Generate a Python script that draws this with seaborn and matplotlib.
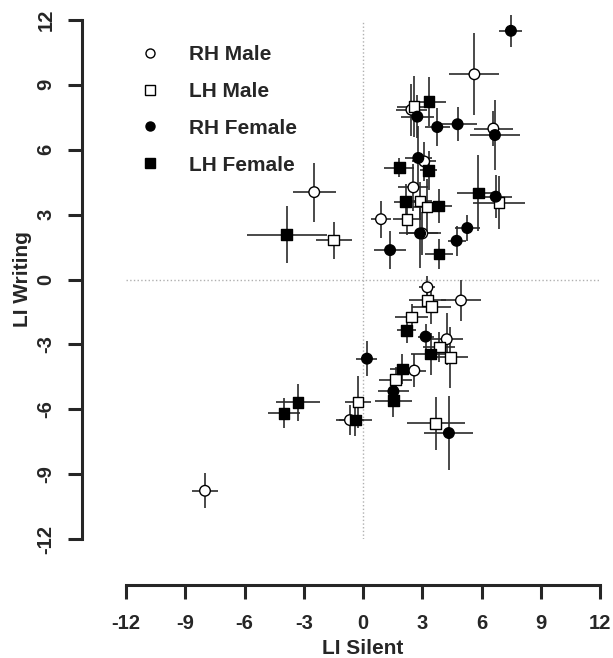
import seaborn as sns
import pandas as pd
import matplotlib.pyplot as plt
from matplotlib.lines import Line2D

# Laterality indices (silent vs writing) with error bars, per group
groups = ["RH Male", "LH Male", "RH Female", "LH Female"]

rh_male_x = [5.64, 2.45, 6.6, 3.1, 2.55, 0.91, 3.0, -2.47, 3.26, 4.96, 4.24, 2.6, -0.66, -8.0]
rh_male_y = [9.49, 7.85, 6.98, 5.46, 4.26, 2.79, 2.13, 4.04, -0.36, -0.97, -2.76, -4.21, -6.5, -9.77]
rh_male_xerr = [1.27, 0.8, 1.0, 0.6, 0.76, 0.5, 0.8, 1.08, 0.4, 1.0, 0.84, 0.6, 0.7, 0.68]
rh_male_yerr = [1.89, 1.2, 0.8, 0.9, 1.08, 0.85, 1.0, 1.37, 0.5, 0.93, 1.2, 0.75, 0.7, 0.8]

lh_male_x = [2.58, 6.89, 2.89, 3.24, 2.23, -1.49, 3.26, 3.46, 2.46, 3.86, 4.42, 1.65, -0.25, 3.68]
lh_male_y = [8.0, 3.55, 3.63, 3.35, 2.78, 1.82, -0.97, -1.25, -1.74, -3.13, -3.6, -4.63, -5.66, -6.65]
lh_male_xerr = [0.85, 1.3, 0.6, 0.7, 0.7, 0.91, 0.95, 1.0, 0.85, 0.8, 0.9, 0.85, 0.68, 1.46]
lh_male_yerr = [1.4, 1.23, 0.9, 1.3, 0.7, 0.85, 0.6, 0.8, 0.6, 0.7, 1.4, 0.6, 1.2, 1.23]

rh_female_x = [7.49, 2.75, 3.76, 4.79, 6.68, 2.8, 6.72, 2.89, 5.28, 4.74, 1.37, 3.17, 0.2, 1.54, 4.35]
rh_female_y = [11.5, 7.53, 7.05, 7.18, 6.68, 5.62, 3.83, 2.13, 2.38, 1.79, 1.36, -2.64, -3.66, -5.17, -7.1]
rh_female_xerr = [0.58, 0.82, 0.62, 1.0, 1.27, 0.68, 0.8, 1.05, 0.63, 0.46, 0.83, 0.4, 0.53, 0.8, 1.24]
rh_female_yerr = [0.75, 1.0, 0.89, 0.79, 1.6, 1.5, 1.0, 1.6, 0.6, 0.69, 0.86, 0.6, 0.81, 0.6, 1.7]

lh_female_x = [3.34, 1.84, 3.32, 5.84, 2.16, 3.83, 3.85, -3.86, 2.21, 3.43, 1.99, 1.54, -3.29, -4.0, -0.39]
lh_female_y = [8.22, 5.17, 5.05, 4.0, 3.6, 3.4, 1.17, 2.08, -2.35, -3.44, -4.14, -5.6, -5.68, -6.19, -6.5]
lh_female_xerr = [0.85, 0.76, 0.45, 1.1, 0.6, 0.68, 0.72, 2.03, 0.48, 1.0, 0.63, 0.95, 1.1, 0.82, 0.83]
lh_female_yerr = [1.13, 0.44, 0.9, 1.74, 0.8, 0.77, 0.69, 1.34, 0.58, 0.96, 0.69, 0.77, 0.85, 0.69, 0.73]

ticks = [-12, -9, -6, -3, 0, 3, 6, 9, 12]

frames = []
for name, xs, ys, xe, ye in [
    ("RH Male", rh_male_x, rh_male_y, rh_male_xerr, rh_male_yerr),
    ("LH Male", lh_male_x, lh_male_y, lh_male_xerr, lh_male_yerr),
    ("RH Female", rh_female_x, rh_female_y, rh_female_xerr, rh_female_yerr),
    ("LH Female", lh_female_x, lh_female_y, lh_female_xerr, lh_female_yerr),
]:
    frames.append(pd.DataFrame({"group": name, "silent": xs, "writing": ys,
                                "xerr": xe, "yerr": ye}))
df = pd.concat(frames, ignore_index=True)

sns.set_style("ticks")
plt.rcParams["font.family"] = ["Liberation Sans", "DejaVu Sans"]
plt.rcParams["font.weight"] = "bold"

fig = plt.figure(figsize=(6.13, 6.58), dpi=100)
ax = fig.add_axes([126 / 613, 119 / 658, 474 / 613, 519 / 658])
ax.set_xlim(-12, 12)
ax.set_ylim(-12, 12)

# dotted reference lines
ax.hlines(0, -12, 12, colors="#b0b0b0", linestyles=":", linewidth=1, zorder=0)
ax.vlines(0, -12, 12, colors="#b0b0b0", linestyles=":", linewidth=1, zorder=0)

# error bars
ax.errorbar(df["silent"], df["writing"], xerr=df["xerr"], yerr=df["yerr"],
            fmt="none", ecolor="#2a2a2a", elinewidth=1.2, capsize=0,
            zorder=1, clip_on=False)

palette = {"RH Male": "white", "LH Male": "white",
           "RH Female": "black", "LH Female": "black"}
markers = {"RH Male": "o", "LH Male": "s", "RH Female": "o", "LH Female": "s"}
sns.scatterplot(data=df, x="silent", y="writing", hue="group", style="group",
                hue_order=groups, style_order=groups, palette=palette,
                markers=markers, s=58, edgecolor="black", linewidth=1,
                legend=False, zorder=3, ax=ax, clip_on=False)

# R-style detached axes
for side in ["top", "right"]:
    ax.spines[side].set_visible(False)
ax.spines["left"].set_position(("outward", 31.7))
ax.spines["bottom"].set_position(("outward", 33.1))
for side in ["left", "bottom"]:
    ax.spines[side].set_linewidth(2.2)
    ax.spines[side].set_bounds(-12, 12)
ax.set_xticks(ticks)
ax.set_yticks(ticks)
ax.set_xticklabels([str(t) for t in ticks])
ax.set_yticklabels([str(t) for t in ticks], rotation=90, va="center")
ax.tick_params(axis="both", length=10, width=2.2, labelsize=14.5)
ax.tick_params(axis="x", pad=11)
ax.tick_params(axis="y", pad=9)
for lab in ax.get_xticklabels() + ax.get_yticklabels():
    lab.set_fontweight("bold")

ax.set_xlabel("LI Silent", fontsize=15, fontweight="bold")
ax.set_ylabel("LI Writing", fontsize=15, fontweight="bold")
ax.xaxis.set_label_coords(0.5, -0.193)
ax.yaxis.set_label_coords(-0.198, 0.5)

handles = [Line2D([], [], linestyle="none", marker=markers[g],
                  markerfacecolor=palette[g], markeredgecolor="black",
                  markeredgewidth=1, markersize=6.5) for g in groups]
leg = ax.legend(handles, groups, loc="upper left", bbox_to_anchor=(0.0287, 0.952),
                frameon=False, borderpad=0, borderaxespad=0, handlelength=1,
                handletextpad=1.37, labelspacing=0.86,
                prop={"size": 15, "weight": "bold"})

fig.savefig("out.png", dpi=100)
